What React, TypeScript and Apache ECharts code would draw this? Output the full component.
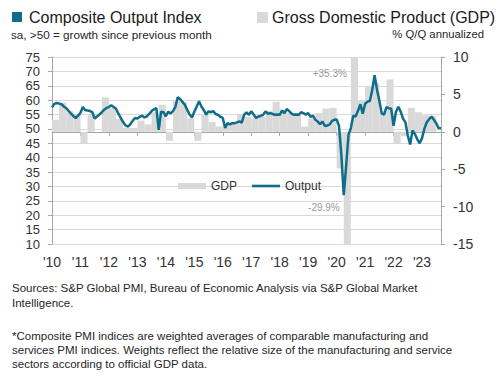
import React, { useEffect, useRef } from "react";
import * as echarts from "echarts";

// Year tick labels (one per January, starting Jan 2010)
const yearLabels = ["'10", "'11", "'12", "'13", "'14", "'15", "'16", "'17", "'18", "'19", "'20", "'21", "'22", "'23"];

// Composite Output Index, monthly, Jan 2010 – Sep 2023
const output2010 = [57.5, 58.7, 59.0, 58.8, 58.6, 57.8, 57.2, 56.3, 55.3, 54.5, 53.8, 54.6];
const output2011 = [55.6, 57.6, 56.6, 56.4, 56.2, 55.8, 53.6, 54.3, 55.0, 55.8, 56.7, 57.3];
const output2012 = [57.6, 58.2, 57.6, 57.0, 55.3, 53.8, 52.4, 51.2, 50.8, 51.6, 52.8, 53.8];
const output2013 = [53.6, 54.2, 54.6, 54.0, 54.4, 55.2, 56.2, 56.8, 57.2, 49.7, 56.0, 55.8];
const output2014 = [54.4, 56.0, 55.4, 56.2, 57.6, 61.0, 60.4, 59.4, 58.4, 56.6, 55.0, 54.0];
const output2015 = [56.0, 57.8, 59.6, 57.8, 56.5, 55.0, 56.1, 55.8, 56.2, 55.2, 54.9, 54.2];
const output2016 = [53.8, 50.3, 52.0, 51.6, 52.0, 52.0, 52.3, 52.6, 52.2, 54.9, 55.8, 54.9];
const output2017 = [56.1, 55.0, 53.8, 54.3, 54.5, 54.9, 56.1, 55.3, 55.5, 55.2, 54.9, 55.0];
const output2018 = [54.9, 56.4, 55.5, 56.9, 56.2, 55.3, 54.9, 55.0, 54.9, 55.8, 55.5, 54.9];
const output2019 = [55.5, 54.2, 54.6, 53.2, 52.6, 51.6, 52.6, 51.0, 51.2, 51.5, 52.7, 53.2];
const output2020 = [53.3, 51.0, 40.9, 27.0, 37.0, 47.9, 50.3, 54.6, 54.3, 56.3, 58.6, 55.3];
const output2021 = [58.7, 59.5, 59.7, 63.5, 68.7, 63.7, 59.9, 55.4, 55.0, 57.6, 57.2, 57.0];
const output2022 = [51.1, 55.9, 57.7, 56.0, 53.6, 52.3, 47.7, 44.6, 49.5, 48.2, 46.4, 45.0];
const output2023 = [46.8, 50.1, 52.3, 53.4, 54.3, 53.2, 52.0, 50.2, 50.2];

// GDP, % Q/Q annualized, 2010 Q1 – 2023 Q2
const gdp2010 = [1.6, 3.9, 2.8, 2.4];
const gdp2011 = [-1.6, 2.4, 0.0, 4.6];
const gdp2012 = [3.2, 1.7, 0.5, 0.5];
const gdp2013 = [1.5, 1.0, 2.6, 3.6];
const gdp2014 = [-1.2, 4.3, 4.0, 1.8];
const gdp2015 = [-1.2, 2.3, 1.3, 0.7];
const gdp2016 = [1.0, 1.2, 2.4, 2.0];
const gdp2017 = [1.8, 2.0, 2.8, 4.0];
const gdp2018 = [3.0, 2.5, 2.5, 0.7];
const gdp2019 = [1.8, 2.5, 3.1, 3.2];
const gdp2020 = [-4.9, -29.9, 35.3, 4.2];
const gdp2021 = [6.0, 6.5, 2.7, 7.0];
const gdp2022 = [-1.6, -0.6, 3.2, 2.6];
const gdp2023 = [2.2, 2.1];

const outputIndex = [
  ...output2010, ...output2011, ...output2012, ...output2013, ...output2014, ...output2015, ...output2016,
  ...output2017, ...output2018, ...output2019, ...output2020, ...output2021, ...output2022, ...output2023,
];
const gdpGrowth = [
  ...gdp2010, ...gdp2011, ...gdp2012, ...gdp2013, ...gdp2014, ...gdp2015, ...gdp2016,
  ...gdp2017, ...gdp2018, ...gdp2019, ...gdp2020, ...gdp2021, ...gdp2022, ...gdp2023,
];

const TEAL = "#0e6d89";
const BAR_GRAY = "#d9d9d9";
const AXIS_GRAY = "#a6a6a6";
const FONT = "'Liberation Sans', Arial, sans-serif";

export default function App() {
  const ref = useRef<HTMLDivElement>(null);

  useEffect(() => {
    const chart = echarts.init(ref.current!, null, { renderer: "svg" });
    const lineData = outputIndex.map((v, i) => [i, v]);
    const gdpData = gdpGrowth.map((v, q) => [q * 3, v]);

    const renderGdp = (params: any, api: any) => {
      const start = api.value(0);
      const v = api.value(1);
      const p0 = api.coord([start, 0]);
      const p1 = api.coord([start + 3, v]);
      const cs = params.coordSys;
      const rect = echarts.graphic.clipRectByRect(
        { x: p0[0], y: Math.min(p0[1], p1[1]), width: p1[0] - p0[0], height: Math.abs(p1[1] - p0[1]) },
        { x: cs.x, y: cs.y, width: cs.width, height: cs.height }
      );
      const children: any[] = [];
      if (rect) children.push({ type: "rect", shape: rect, style: { fill: BAR_GRAY } });
      if (v > 10 || v < -15) {
        children.push({
          type: "text",
          x: p0[0] - 4,
          y: v > 0 ? cs.y + 16 : cs.y + cs.height - 37,
          style: {
            text: (v > 0 ? "+" : "") + v.toFixed(1) + "%",
            fill: "#9a9a9a",
            fontSize: 10,
            fontFamily: FONT,
            align: "right",
            verticalAlign: "middle",
          },
        });
      }
      return { type: "group", children };
    };

    const footer1 = "Sources: S&P Global PMI, Bureau of Economic Analysis via S&P Global Market";
    const footer2 = "Intelligence.";
    const note1 = "*Composite PMI indices are weighted averages of comparable manufacturing and";
    const note2 = "services PMI indices. Weights reflect the relative size of the manufacturing and service";
    const note3 = "sectors according to official GDP data.";

    const txt = (text: string, x: number, y: number, size: number, extra: any = {}) => ({
      type: "text",
      x,
      y,
      style: { text, fill: "#262626", fontSize: size, fontFamily: FONT, verticalAlign: "middle", ...extra },
    });

    const axisLabelStyle = { color: "#333", fontSize: 13, lineHeight: 13 };

    const option: any = {
      animation: false,
      textStyle: { fontFamily: FONT },
      grid: { left: 52, right: 59, top: 57, bottom: 136 },
      xAxis: {
        type: "value",
        min: 0,
        max: 164,
        interval: 12,
        axisLine: { show: true, lineStyle: { color: AXIS_GRAY } },
        axisTick: { show: true, length: 4, lineStyle: { color: AXIS_GRAY } },
        splitLine: { show: false },
        axisLabel: {
          ...axisLabelStyle,
          fontSize: 14,
          margin: 11,
          formatter: (v: number) => yearLabels[Math.round(v / 12)] ?? "",
        },
      },
      yAxis: [
        {
          type: "value",
          min: 10,
          max: 75,
          interval: 5,
          position: "left",
          axisLine: { show: true, lineStyle: { color: AXIS_GRAY } },
          axisTick: { show: true, length: 4, lineStyle: { color: AXIS_GRAY } },
          splitLine: { show: true, lineStyle: { color: "#d9d9d9" } },
          axisLabel: { ...axisLabelStyle, margin: 12 },
        },
        {
          type: "value",
          min: -15,
          max: 10,
          interval: 5,
          position: "right",
          axisLine: { show: true, lineStyle: { color: AXIS_GRAY } },
          axisTick: { show: true, length: 4, lineStyle: { color: AXIS_GRAY } },
          splitLine: { show: false },
          axisLabel: { ...axisLabelStyle, fontSize: 14, margin: 12 },
        },
      ],
      legend: {
        left: 178,
        top: 180,
        padding: 0,
        itemWidth: 28,
        itemHeight: 6,
        itemGap: 15,
        textStyle: { color: "#333", fontSize: 12, fontFamily: FONT },
        data: [
          { name: "GDP", icon: "rect", itemStyle: { color: BAR_GRAY } },
          { name: "Output", icon: "path://M0,0H28V2.6H0Z", itemStyle: { color: TEAL } },
        ],
      },
      series: [
        {
          name: "GDP",
          type: "custom",
          yAxisIndex: 1,
          data: gdpData,
          renderItem: renderGdp,
          itemStyle: { color: BAR_GRAY },
          z: 1,
        },
        {
          name: "Output",
          type: "line",
          yAxisIndex: 0,
          data: lineData,
          symbol: "none",
          showSymbol: false,
          lineStyle: { color: TEAL, width: 2.5 },
          itemStyle: { color: TEAL },
          z: 3,
        },
      ],
      graphic: [
        { type: "rect", shape: { x: 12, y: 12, width: 10, height: 10 }, style: { fill: TEAL } },
        txt("Composite Output Index", 29, 17, 16, { fill: "#1a1a1a" }),
        txt("sa, >50 = growth since previous month", 11, 34, 11.7),
        { type: "rect", shape: { x: 257, y: 12, width: 11, height: 11 }, style: { fill: BAR_GRAY } },
        txt("Gross Domestic Product (GDP)", 272, 17, 16, { fill: "#1a1a1a" }),
        txt("% Q/Q annualized", 484, 34, 11.3, { align: "right" }),
        txt(footer1, 12, 288, 11.5),
        txt(footer2, 12, 303, 11.5),
        txt(note1, 12, 336, 11.5),
        txt(note2, 12, 350, 11.5),
        txt(note3, 12, 364, 11.5),
      ],
    };

    chart.setOption(option);
    return () => chart.dispose();
  }, []);

  return (
    <div
      ref={ref}
      style={{ position: "absolute", left: 0, top: 0, width: 500, height: 380, background: "#fff" }}
    />
  );
}
